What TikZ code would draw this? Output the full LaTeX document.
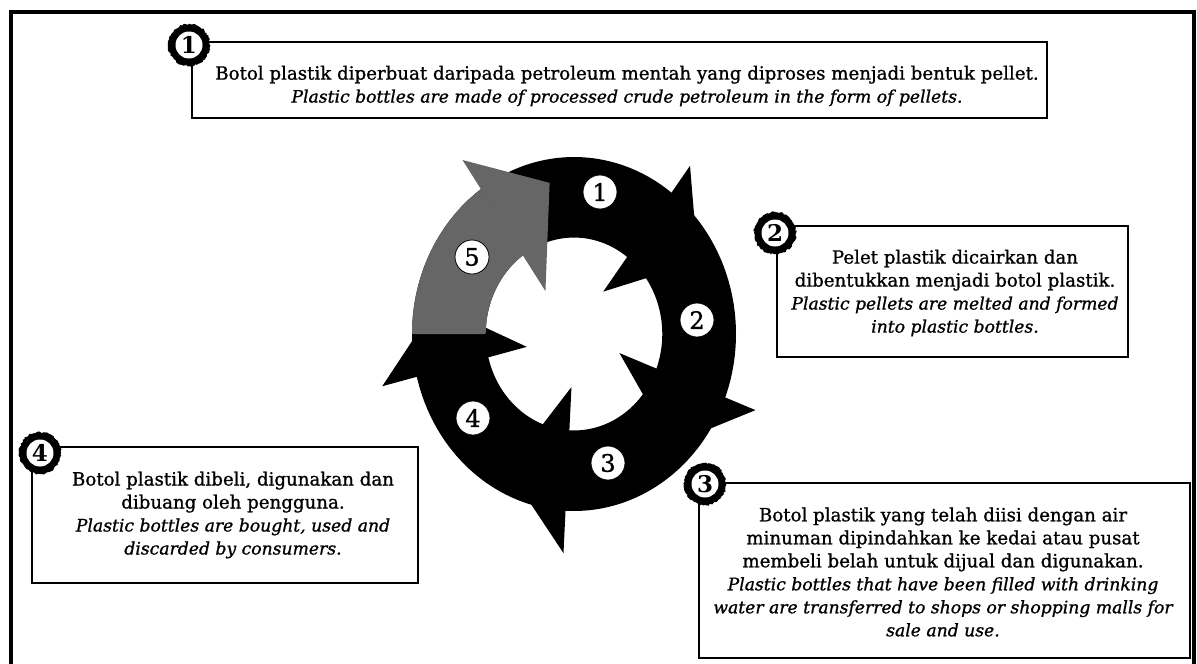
\documentclass[tikz,border=0pt]{standalone}
\usepackage{fontspec}
\setmainfont{DejaVu Serif}[FakeBold=1.0]
\newfontfamily\badgefont{DejaVu Serif}
\newcommand\ital[1]{{\fontsize{17.2}{23}\selectfont\itshape #1}}
\usetikzlibrary{decorations.pathmorphing}
\definecolor{grayseg}{gray}{0.40}
\tikzset{
  boxline/.style={draw=black, line width=1.6pt, rectangle, inner sep=0pt},
  txt/.style={align=center, inner sep=0pt, font=\fontsize{18.2}{23}\selectfont},
  rag/.style={fill=black, decorate, decoration={random steps, segment length=1.6pt, amplitude=0.9pt}},
  badge/.style={circle, fill=white, minimum size=27pt, inner sep=0pt, font=\fontsize{23}{23}\selectfont\badgefont\bfseries},
  num/.style={circle, fill=white, draw=black, line width=0.8pt, minimum size=34pt, inner sep=0pt, font=\fontsize{24}{24}\selectfont},
  frameline/.style={line width=4pt, line cap=butt, line join=miter}
}
\begin{document}
\begin{tikzpicture}[x=1pt, y=-1pt]
\useasboundingbox (0,0) rectangle (1197,664);
\fill[white] (0,0) rectangle (1197,664);
% outer frame
\draw[frameline] (11,670) -- (11,12) -- (1194,12) -- (1194,670);

% cycle ring
\begin{scope}[shift={(574,334)}, x=162pt, y=177pt]
  \fill[black, even odd rule] plot[domain=0:360, samples=145] (\x:1) -- cycle
        plot[domain=0:360, samples=145] (\x:0.545) -- cycle;
  \foreach \b/\r in {53/1.19,-21/1.2,-93/1.24,194/1.22} {
    \fill[black] (\b:\r) -- (\b:0.3) -- ({\b-25}:0.867) -- cycle;
  }
  \fill[grayseg] plot[domain=180:125, samples=30] (\x:1) -- plot[domain=125:180, samples=30] (\x:0.545) -- cycle;
  \fill[grayseg] (125:1.2) -- (126:0.3) -- (100:0.867) -- cycle;
\end{scope}

\node[num] (n1) at (600,192) {1};
\node[num] (n2) at (697,320) {2};
\node[num] (n3) at (608,463) {3};
\node[num] (n4) at (473,418) {4};
\node[num] (n5) at (472,257) {5};

% boxes
\node[boxline, minimum width=855pt, minimum height=76pt] (B1) at (619.5,80) {};
\node[boxline, minimum width=351pt, minimum height=131pt] (B2) at (952.5,291.5) {};
\node[boxline, minimum width=491pt, minimum height=175pt] (B3) at (944.5,570.5) {};
\node[boxline, minimum width=386pt, minimum height=136pt] (B4) at (225,515) {};

% texts
\node[txt] (t1) at (627,86) {Botol plastik diperbuat daripada petroleum mentah yang diproses menjadi bentuk pellet.\\
\ital{Plastic bottles are made of processed crude petroleum in the form of pellets.}};
\node[txt] (t2) at (955,293) {Pelet plastik dicairkan dan\\ dibentukkan menjadi botol plastik.\\
\ital{Plastic pellets are melted and formed}\\ \ital{into plastic bottles.}};
\node[txt] (t3) at (943,572) {Botol plastik yang telah diisi dengan air\\ minuman dipindahkan ke kedai atau pusat\\ membeli belah untuk dijual dan digunakan.\\
\ital{Plastic bottles that have been filled with drinking}\\ \ital{water are transferred to shops or shopping malls for}\\ \ital{sale and use.}};
\node[txt] (t4) at (233,515) {Botol plastik dibeli, digunakan dan\\ dibuang oleh pengguna.\\
\ital{Plastic bottles are bought, used and}\\ \ital{discarded by consumers.}};

% badges
\coordinate (c1) at (189,45);
\coordinate (c2) at (775,233);
\coordinate (c3) at (705,484);
\coordinate (c4) at (40,453);
\foreach \c in {c1,c2,c3,c4} { \fill[rag] (\c) circle[radius=21pt]; }
\node[badge] (b1) at (c1) {1};
\node[badge] (b2) at (c2) {2};
\node[badge] (b3) at (c3) {3};
\node[badge] (b4) at (c4) {4};
\end{tikzpicture}
\end{document}
